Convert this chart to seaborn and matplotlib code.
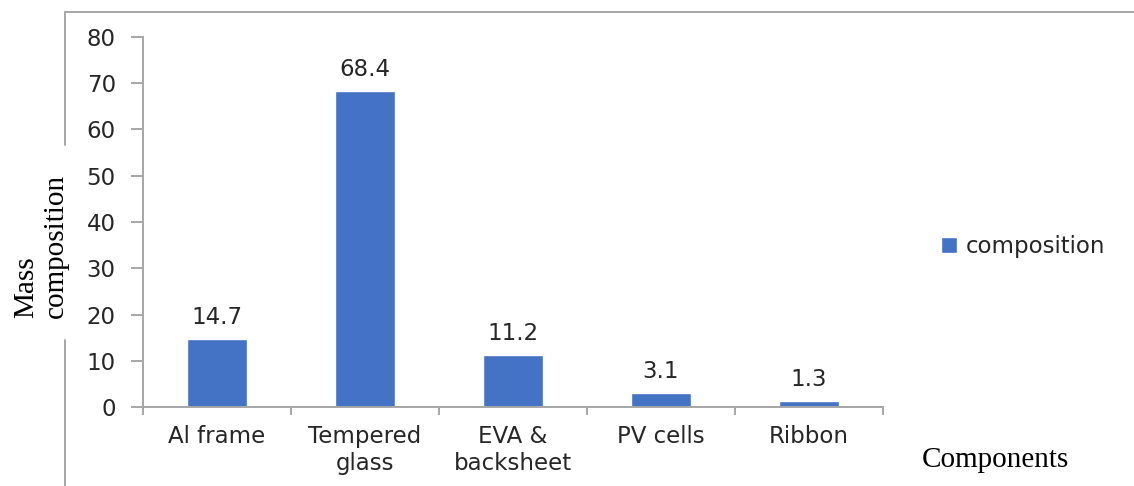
import matplotlib
matplotlib.use("Agg")
import matplotlib.pyplot as plt
from matplotlib.lines import Line2D
import seaborn as sns
import pandas as pd

categories = ["Al frame", "Tempered\nglass", "EVA &\nbacksheet", "PV cells", "Ribbon"]
values = [14.7, 68.4, 11.2, 3.1, 1.3]
series_name = "composition"
y_ticks = [0, 10, 20, 30, 40, 50, 60, 70, 80]

W, H = 1134, 486
sns.set_theme(style="white")
plt.rcParams["font.family"] = ["DejaVu Sans"]

fig = plt.figure(figsize=(W / 100, H / 100), dpi=100)
ax = fig.add_axes([143 / W, 1 - 407 / H, (883 - 143) / W, (407 - 37) / H])

df = pd.DataFrame({"component": categories, "value": values})
sns.barplot(data=df, x="component", y="value", color="#4472C4", saturation=1,
            width=0.4, label=series_name, ax=ax)

axis_col = "#A6A6A6"
text_col = "#262626"
fs = 16.5
ax.set_ylim(0, 80)
ax.set_xlim(-0.5, len(categories) - 0.5)
ax.set_yticks(y_ticks)
ax.set_yticklabels([str(t) for t in y_ticks])
for s in ["top", "right"]:
    ax.spines[s].set_visible(False)
for s in ["left", "bottom"]:
    ax.spines[s].set_color(axis_col)
    ax.spines[s].set_linewidth(1.4)
ax.set_xlabel("")
ax.set_ylabel("")

ax.tick_params(axis="y", which="major", direction="out", length=8.6, width=1.4,
               color=axis_col, labelsize=fs, labelcolor=text_col, pad=11, left=True)
ax.tick_params(axis="x", which="major", length=0, labelsize=fs, labelcolor=text_col, pad=13)
ax.set_xticks([i + 0.5 for i in range(-1, len(categories))], minor=True)
ax.tick_params(axis="x", which="minor", direction="out", length=5.8, width=1.4,
               color=axis_col, bottom=True)
ax.grid(False)

for c in ax.containers:
    ax.bar_label(c, labels=[f"{v:.1f}" for v in values], padding=7,
                 fontsize=fs, color=text_col)

handles, labels = ax.get_legend_handles_labels()
if ax.get_legend() is not None:
    ax.get_legend().remove()
fig.legend(handles, labels, loc="center left", bbox_to_anchor=(920 / W, 1 - 247 / H),
           frameon=False, fontsize=fs, handlelength=0.7, handleheight=0.7,
           handletextpad=0.4, labelcolor=text_col)

fig.text(922 / W, 1 - 460 / H, "Components", family="Liberation Serif",
         fontsize=21, ha="left", va="center", color="black")
fig.text(41 / W, 1 - 318 / H, "Mass\ncomposition", family="Liberation Serif",
         fontsize=21, rotation=90, ha="center", va="bottom", multialignment="left",
         color="black", linespacing=1.15)

frame_kw = dict(color=axis_col, linewidth=1.4, transform=fig.transFigure)
fig.add_artist(Line2D([65 / W, 1.0], [1 - 12 / H, 1 - 12 / H], **frame_kw))
fig.add_artist(Line2D([65 / W, 65 / W], [1 - 12 / H, 1 - 145 / H], **frame_kw))
fig.add_artist(Line2D([65 / W, 65 / W], [1 - 340 / H, 0.0], **frame_kw))

fig.savefig("out.png", dpi=100)
